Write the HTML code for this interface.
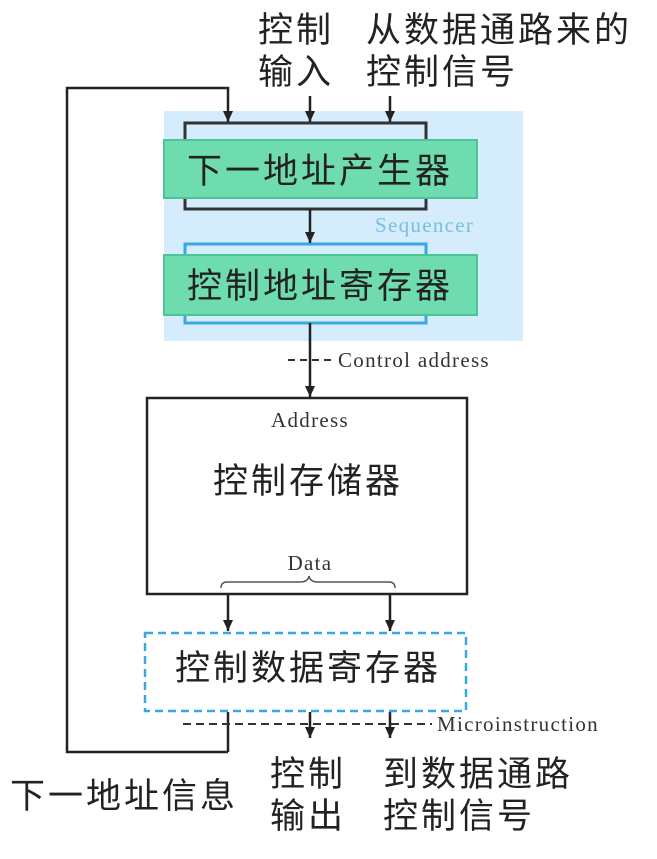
<!DOCTYPE html>
<html><head><meta charset="utf-8"><style>
body{margin:0;background:#fff;width:657px;height:859px;overflow:hidden}
svg{display:block}
.cj{font-family:"Liberation Sans","Noto Sans CJK SC",sans-serif;font-size:35px;fill:#222;letter-spacing:3px}
.en{font-family:"Liberation Serif",serif;font-size:21px;fill:#333;letter-spacing:1.3px}
</style></head><body>
<svg width="657" height="859" viewBox="0 0 657 859">
<defs><marker id="a" markerWidth="12" markerHeight="10" refX="11" refY="5" orient="auto" markerUnits="userSpaceOnUse"><path d="M0,0 L11,5 L0,10 Z" fill="#222"/></marker></defs>
<rect x="164" y="111" width="359" height="230" fill="#d4ecfb"/>
<rect x="185" y="123" width="241" height="86" fill="none" stroke="#333" stroke-width="3"/>
<rect x="164" y="140" width="313" height="58" fill="#6fdcb0" stroke="#4cc596" stroke-width="2"/>
<text class="cj" x="320" y="183" text-anchor="middle">下一地址产生器</text>
<text class="en" x="375" y="232" style="fill:#79c0de">Sequencer</text>
<rect x="185" y="244" width="241" height="79" fill="none" stroke="#3aa8e0" stroke-width="3"/>
<rect x="164" y="255" width="313" height="60" fill="#6fdcb0" stroke="#4cc596" stroke-width="2"/>
<text class="cj" x="320" y="298" text-anchor="middle">控制地址寄存器</text>
<g stroke="#222" stroke-width="2.5" fill="none">
<line x1="310" y1="96" x2="310" y2="122" marker-end="url(#a)"/>
<line x1="390" y1="96" x2="390" y2="122" marker-end="url(#a)"/>
<polyline points="228,752 67,752 67,88 228,88 228,122" marker-end="url(#a)"/>
<line x1="228" y1="712" x2="228" y2="752"/>
<line x1="310" y1="209" x2="310" y2="243" marker-end="url(#a)"/>
<line x1="310" y1="323" x2="310" y2="397" marker-end="url(#a)"/>
<line x1="228" y1="594" x2="228" y2="631" marker-end="url(#a)"/>
<line x1="390" y1="594" x2="390" y2="631" marker-end="url(#a)"/>
<line x1="310" y1="712" x2="310" y2="738" marker-end="url(#a)"/>
<line x1="390" y1="712" x2="390" y2="738" marker-end="url(#a)"/>
</g>
<line x1="288" y1="360" x2="333" y2="360" stroke="#333" stroke-width="2" stroke-dasharray="7,5"/>
<text class="en" x="338" y="367">Control address</text>
<rect x="147" y="398" width="320" height="196" fill="none" stroke="#222" stroke-width="2.5"/>
<text class="en" x="310" y="427" text-anchor="middle">Address</text>
<text class="cj" x="308" y="493" text-anchor="middle">控制存储器</text>
<text class="en" x="310" y="570" text-anchor="middle">Data</text>
<path d="M221,588 q0,-6 6,-6 L300,582 q8,0 9,-6 q1,6 9,6 L389,582 q6,0 6,6" fill="none" stroke="#555" stroke-width="1.5"/>
<rect x="145" y="633" width="321" height="78" fill="none" stroke="#3aa8e0" stroke-width="2.5" stroke-dasharray="8,5"/>
<text class="cj" x="308" y="680" text-anchor="middle">控制数据寄存器</text>
<line x1="183" y1="724" x2="432" y2="724" stroke="#333" stroke-width="2" stroke-dasharray="8,5"/>
<text class="en" x="437" y="731">Microinstruction</text>
<text class="cj" x="258" y="42">控制</text>
<text class="cj" x="258" y="84">输入</text>
<text class="cj" x="366" y="42">从数据通路来的</text>
<text class="cj" x="366" y="84">控制信号</text>
<text class="cj" x="10" y="808">下一地址信息</text>
<text class="cj" x="270" y="786">控制</text>
<text class="cj" x="270" y="828">输出</text>
<text class="cj" x="383" y="786">到数据通路</text>
<text class="cj" x="383" y="828">控制信号</text>
</svg>
</body></html>
